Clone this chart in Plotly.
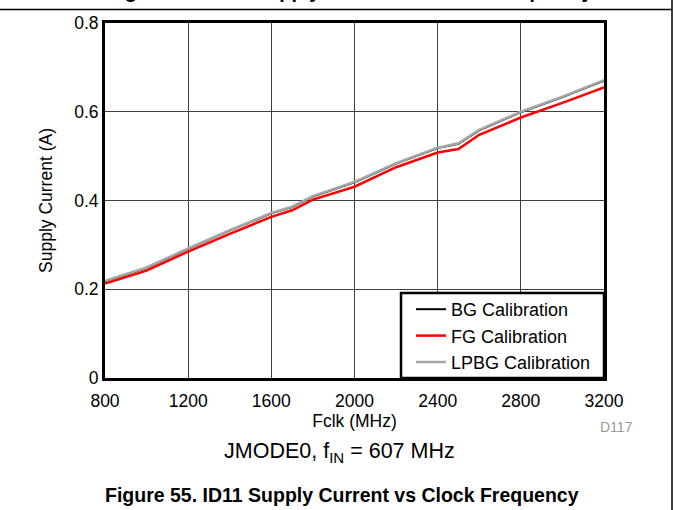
import plotly.graph_objects as go

freq = [800, 1000, 1200, 1400, 1600, 1700, 1800, 2000, 2200, 2400, 2500, 2600, 2800, 3000, 3200]
bg_cal = [0.218, 0.248, 0.291, 0.332, 0.371, 0.385, 0.409, 0.441, 0.483, 0.518, 0.528, 0.558, 0.599, 0.633, 0.670]
fg_cal = [0.213, 0.242, 0.285, 0.325, 0.363, 0.378, 0.402, 0.431, 0.475, 0.508, 0.516, 0.548, 0.587, 0.620, 0.655]
lpbg_cal = [0.219, 0.249, 0.292, 0.333, 0.372, 0.386, 0.410, 0.442, 0.484, 0.519, 0.529, 0.559, 0.600, 0.634, 0.671]

x_ticks = [800, 1200, 1600, 2000, 2400, 2800, 3200]
y_ticks = [0, 0.2, 0.4, 0.6, 0.8]
y_tick_text = ["0", "0.2", "0.4", "0.6", "0.8"]

FONT = "Liberation Sans, Arial, sans-serif"

fig = go.Figure()
fig.add_trace(go.Scatter(x=freq, y=bg_cal, mode="lines", name="BG Calibration",
                         line=dict(color="black", width=2)))
fig.add_trace(go.Scatter(x=freq, y=fg_cal, mode="lines", name="FG Calibration",
                         line=dict(color="#ff0000", width=2.5)))
fig.add_trace(go.Scatter(x=freq, y=lpbg_cal, mode="lines", name="LPBG Calibration",
                         line=dict(color="#a6a6a6", width=2.5)))

W, H = 673, 510
L, R, T, B = 105, 69, 23, 132
pw, ph = W - L - R, H - T - B

def px(xp):
    return (xp - L) / pw

def py(yp):
    return (H - B - yp) / ph

fig.update_layout(
    width=W, height=H,
    margin=dict(l=L, r=R, t=T, b=B, pad=0),
    paper_bgcolor="white", plot_bgcolor="white",
    font=dict(family=FONT, size=17, color="black"),
    showlegend=True,
    legend=dict(x=px(411), y=py(336), xanchor="left", yanchor="middle",
                borderwidth=0, bgcolor="rgba(0,0,0,0)",
                font=dict(size=18), tracegroupgap=0),
    xaxis=dict(range=[800, 3200], tickvals=x_ticks, ticks="", showgrid=True,
               gridcolor="#404040", gridwidth=1, zeroline=False,
               showline=True, linecolor="black", linewidth=3, mirror=True,
               tickfont=dict(size=17.5), ticklabelstandoff=5,
               title=dict(text="Fclk (MHz)", font=dict(size=17.5), standoff=0)),
    yaxis=dict(range=[0, 0.8], tickvals=y_ticks, ticktext=y_tick_text, ticks="",
               showgrid=True, gridcolor="#404040", gridwidth=1, zeroline=False,
               showline=True, linecolor="black", linewidth=3, mirror=True,
               tickfont=dict(size=17.5),
               title=dict(text="Supply Current (A)", font=dict(size=17.5), standoff=18)),
    annotations=[
        dict(text="D117", xref="paper", yref="paper", x=px(616), y=py(427),
             showarrow=False, font=dict(size=14, color="#999999"),
             xanchor="center", yanchor="middle"),
        dict(text="JMODE0, f<sub>IN</sub> = 607 MHz", xref="paper", yref="paper",
             x=px(339), y=py(452), showarrow=False, font=dict(size=21.5),
             xanchor="center", yanchor="middle"),
        dict(text="<b>Figure 55. ID11 Supply Current vs Clock Frequency</b>",
             xref="paper", yref="paper", x=px(342), y=py(495), showarrow=False,
             font=dict(size=19.5), xanchor="center", yanchor="middle"),
        dict(text="<b>Figure 54. IA11 Supply Current vs Clock Frequency</b>",
             xref="paper", yref="paper", x=px(105), y=py(4), showarrow=False,
             font=dict(size=20), xanchor="left", yanchor="bottom"),
    ],
    shapes=[
        dict(type="line", xref="paper", yref="paper", x0=px(0), x1=px(672),
             y0=py(9.5), y1=py(9.5), line=dict(color="black", width=1.5)),
        dict(type="line", xref="paper", yref="paper", x0=px(672), x1=px(672),
             y0=py(0), y1=py(510), line=dict(color="black", width=1.5)),
        dict(type="rect", xref="paper", yref="paper", x0=px(401), x1=px(604),
             y0=py(378), y1=py(293), layer="above",
             fillcolor="white", line=dict(color="black", width=2.5)),
    ],
)

fig.write_html("out.html", config={"displayModeBar": False},
               post_script="document.body.style.margin='0';document.body.style.padding='0';")
